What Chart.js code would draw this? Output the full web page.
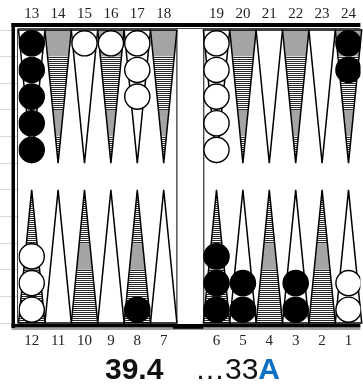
<!DOCTYPE html>
<html>
<head>
<meta charset="utf-8">
<script src="https://cdn.jsdelivr.net/npm/chart.js@4.4.1/dist/chart.umd.min.js"></script>
<style>
  html, body { margin: 0; padding: 0; background: #fff; }
  canvas { display: block; }
</style>
</head>
<body>
<canvas id="board" width="363" height="385"></canvas>
<script>
// Point numbers, left to right, along the top and bottom edge
const topLabels = [13, 14, 15, 16, 17, 18, 19, 20, 21, 22, 23, 24];
const bottomLabels = [12, 11, 10, 9, 8, 7, 6, 5, 4, 3, 2, 1];

// Checkers on each point, index 0 = point 1
const blackCounts = [0, 0, 2, 0, 2, 3, 0, 1, 0, 0, 0, 0, 5, 0, 0, 0, 0, 0, 0, 0, 0, 0, 0, 2];
const whiteCounts = [2, 0, 0, 0, 0, 0, 0, 0, 0, 0, 0, 3, 0, 0, 1, 1, 3, 0, 5, 0, 0, 0, 0, 0];

// Caption under the board
const scoreText = '39.4';
const moveText = '\u202633';
const moveFlag = 'A';

// column 0..5 = left half, 6 = bar, 7..12 = right half
function pointColumn(p) {
    if (p >= 13) return p <= 18 ? p - 13 : p - 12;
    return p >= 7 ? 12 - p : 13 - p;
}

function checkerData(counts) {
    const out = [];
    counts.forEach((n, i) => {
        const p = i + 1;
        const onTop = p >= 13;
        for (let k = 0; k < n; k++) {
            out.push({ x: pointColumn(p) + 0.5, y: onTop ? 10.5 - k : 0.5 + k });
        }
    });
    return out;
}

// Shading of the dark points, from base to tip
const TOP_BANDS = ['grey', 'stripe', 'stripe', 'grey', 'stripe'];
const BOTTOM_BANDS = ['stripe', 'stripe', 'grey', 'stripe', 'stripe'];

function drawPoint(ctx, x, y, p) {
    const onTop = p >= 13;
    const col = pointColumn(p);
    const xl = x.getPixelForValue(col);
    const xr = x.getPixelForValue(col + 1);
    const xm = x.getPixelForValue(col + 0.5);
    const yBase = y.getPixelForValue(onTop ? 11 : 0);
    const yTip = y.getPixelForValue(onTop ? 6 : 5);

    ctx.beginPath();
    ctx.moveTo(xl, yBase);
    ctx.lineTo(xm, yTip);
    ctx.lineTo(xr, yBase);
    ctx.closePath();

    if (p % 2 === 0) {
        ctx.save();
        ctx.clip();
        const bands = onTop ? TOP_BANDS : BOTTOM_BANDS;
        bands.forEach((band, i) => {
            let ya = y.getPixelForValue(onTop ? 11 - i : i);
            let yb = y.getPixelForValue(onTop ? 10 - i : i + 1);
            if (ya > yb) [ya, yb] = [yb, ya];
            if (band === 'grey') {
                ctx.fillStyle = '#a4a4a4';
                ctx.fillRect(xl, ya, xr - xl, yb - ya);
            } else {
                ctx.fillStyle = '#fff';
                ctx.fillRect(xl, ya, xr - xl, yb - ya);
                ctx.fillStyle = '#2a2a2a';
                for (let yy = Math.round(ya); yy < yb; yy += 2) {
                    ctx.fillRect(xl, yy, xr - xl, 1);
                }
            }
        });
        ctx.restore();
    } else {
        ctx.fillStyle = '#fff';
        ctx.fill();
    }
    ctx.lineWidth = 1.5;
    ctx.strokeStyle = '#000';
    ctx.stroke();
}

const boardPlugin = {
    id: 'board',
    beforeDatasetsDraw(chart) {
        const { ctx, chartArea: a, scales: { x, y } } = chart;
        ctx.save();
        ctx.fillStyle = '#fff';
        ctx.fillRect(a.left, a.top, a.right - a.left, a.bottom - a.top);

        for (let p = 1; p <= 24; p++) {
            drawPoint(ctx, x, y, p);
        }

        // bar
        const bl = x.getPixelForValue(6);
        const br = x.getPixelForValue(7);
        ctx.fillStyle = '#fff';
        ctx.fillRect(bl + 1, a.top, br - bl - 2, a.bottom - a.top);
        ctx.strokeStyle = '#000';
        ctx.lineWidth = 1;
        ctx.beginPath();
        ctx.moveTo(bl, a.top); ctx.lineTo(bl, a.bottom);
        ctx.moveTo(br + 0.5, a.top); ctx.lineTo(br + 0.5, a.bottom);
        ctx.stroke();

        // frame
        ctx.fillStyle = '#000';
        ctx.fillRect(a.left - 7, a.top - 7, 3.5, a.bottom - a.top + 12);
        ctx.fillRect(a.left - 7, a.top - 7, a.right - a.left + 7, 4);
        ctx.fillRect(a.left - 7, a.bottom + 1, a.right - a.left + 7, 3.5);
        ctx.fillRect(bl - 4, a.bottom + 3, br - bl + 4, 3);
        ctx.strokeStyle = '#444';
        ctx.lineWidth = 1;
        ctx.beginPath();
        ctx.moveTo(a.left - 1, a.top - 1); ctx.lineTo(a.left - 1, a.bottom);
        ctx.moveTo(a.left - 1, a.top - 1.5); ctx.lineTo(a.right, a.top - 1.5);
        ctx.moveTo(a.left - 7, a.bottom + 6); ctx.lineTo(a.right, a.bottom + 6);
        ctx.stroke();
        ctx.restore();
    },
    afterDraw(chart) {
        const { ctx } = chart;
        ctx.save();
        ctx.textAlign = 'left';
        ctx.textBaseline = 'alphabetic';
        ctx.fillStyle = '#111';
        ctx.font = 'bold 30px "Liberation Sans", Arial, sans-serif';
        ctx.fillText(scoreText, 105, 379);
        ctx.font = '30px "Liberation Sans", Arial, sans-serif';
        ctx.fillText(moveText, 195, 379);
        const w = ctx.measureText(moveText).width;
        ctx.font = 'bold 30px "Liberation Sans", Arial, sans-serif';
        ctx.fillStyle = '#0b6fc4';
        ctx.fillText(moveFlag, 195 + w, 379);
        ctx.restore();
    }
};

const labelFont = { family: '"Liberation Serif", "Times New Roman", serif', size: 15 };

new Chart(document.getElementById('board'), {
    type: 'scatter',
    data: {
        datasets: [
            {
                label: 'Black',
                data: checkerData(blackCounts),
                backgroundColor: '#000',
                borderColor: '#000',
                borderWidth: 1.4,
                pointRadius: 12.6
            },
            {
                label: 'White',
                data: checkerData(whiteCounts),
                backgroundColor: '#fff',
                borderColor: '#000',
                borderWidth: 1.4,
                pointRadius: 12.6
            }
        ]
    },
    options: {
        responsive: false,
        animation: false,
        events: [],
        layout: { padding: 0, autoPadding: false },
        plugins: {
            legend: { display: false },
            tooltip: { enabled: false }
        },
        scales: {
            x: {
                type: 'linear',
                position: 'bottom',
                min: 0,
                max: 12.95,
                afterFit(s) { s.height = 62; },
                afterBuildTicks(s) {
                    s.ticks = bottomLabels.map(p => ({ value: pointColumn(p) + 0.5 }));
                },
                ticks: {
                    autoSkip: false,
                    maxRotation: 0,
                    padding: 9,
                    color: '#222',
                    font: labelFont,
                    callback: (v, i) => bottomLabels[i]
                },
                grid: { display: false, drawTicks: false },
                border: { display: false }
            },
            xTop: {
                type: 'linear',
                axis: 'x',
                position: 'top',
                min: 0,
                max: 12.95,
                afterFit(s) { s.height = 30; },
                afterBuildTicks(s) {
                    s.ticks = topLabels.map(p => ({ value: pointColumn(p) + 0.5 }));
                },
                ticks: {
                    autoSkip: false,
                    maxRotation: 0,
                    padding: 7,
                    color: '#222',
                    font: labelFont,
                    callback: (v, i) => topLabels[i]
                },
                grid: { display: false, drawTicks: false },
                border: { display: false }
            },
            y: {
                type: 'linear',
                position: 'left',
                min: 0,
                max: 11,
                afterFit(s) { s.width = 18.5; },
                ticks: { display: false, stepSize: 1 },
                grid: { drawOnChartArea: false, drawTicks: true, tickLength: 18, color: '#d6d6d6' },
                border: { display: false }
            }
        }
    },
    plugins: [boardPlugin]
});
</script>
</body>
</html>
